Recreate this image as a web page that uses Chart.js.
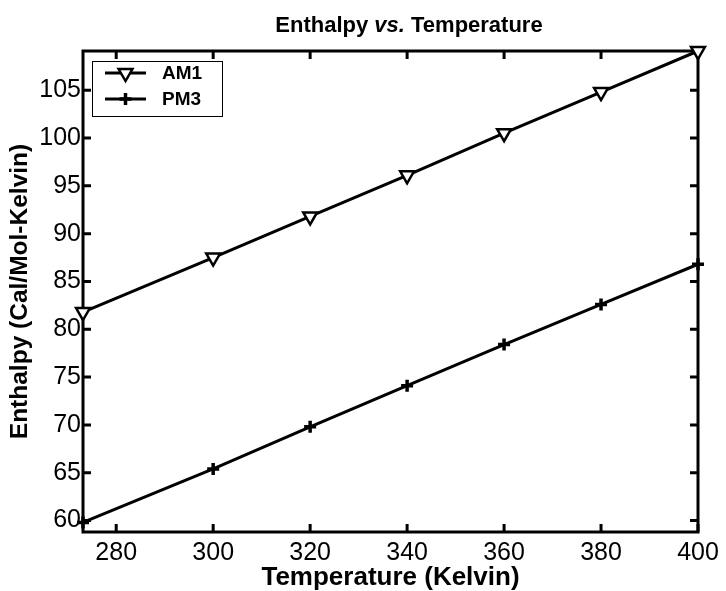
<!DOCTYPE html>
<html>
<head>
<meta charset="utf-8">
<script src="https://cdn.jsdelivr.net/npm/chart.js@4"></script>
<style>
  html, body { margin: 0; padding: 0; background: #fff; }
</style>
</head>
<body>
<canvas id="enthalpyChart" width="726" height="591"></canvas>
<script>
const temperatures = [273.15, 300, 320, 340, 360, 380, 400];
const am1Values = [81.8, 87.5, 91.8, 96.1, 100.5, 104.8, 109.1];
const pm3Values = [59.8, 65.4, 69.8, 74.1, 78.4, 82.6, 86.8];
const xTickLabels = [280, 300, 320, 340, 360, 380, 400];
const yTickLabels = [60, 65, 70, 75, 80, 85, 90, 95, 100, 105];
const seriesNames = ['AM1', 'PM3'];

const FONT = "'Liberation Sans', Arial, Helvetica, sans-serif";

function toPoints(values) {
  return temperatures.map((t, i) => ({ x: t, y: values[i] }));
}

// draws a marker by hand (used for the legend)
function drawMarker(ctx, style, x, y) {
  ctx.save();
  ctx.strokeStyle = '#000';
  if (style === 'tri') {
    const r = 8;
    ctx.lineWidth = 2.5;
    ctx.fillStyle = '#fff';
    ctx.beginPath();
    ctx.moveTo(x, y + r);
    ctx.lineTo(x - r * 0.866, y - r / 2);
    ctx.lineTo(x + r * 0.866, y - r / 2);
    ctx.closePath();
    ctx.fill();
    ctx.stroke();
  } else {
    const r = 6;
    ctx.lineWidth = 3.5;
    ctx.beginPath();
    ctx.moveTo(x - r, y); ctx.lineTo(x + r, y);
    ctx.moveTo(x, y - r); ctx.lineTo(x, y + r);
    ctx.stroke();
  }
  ctx.restore();
}

// box round the axes with ticks pointing inwards, like the original
const framePlugin = {
  id: 'frame',
  beforeDatasetsDraw(chart) {
    const { ctx, chartArea: a, scales } = chart;
    ctx.save();
    ctx.strokeStyle = '#000';
    ctx.lineWidth = 3;
    ctx.strokeRect(a.left, a.top, a.right - a.left, a.bottom - a.top);
    ctx.beginPath();
    scales.x.ticks.forEach(t => {
      const px = scales.x.getPixelForValue(t.value);
      ctx.moveTo(px, a.bottom); ctx.lineTo(px, a.bottom - 8);
      ctx.moveTo(px, a.top); ctx.lineTo(px, a.top + 8);
    });
    scales.y.ticks.forEach(t => {
      const py = scales.y.getPixelForValue(t.value);
      ctx.moveTo(a.left, py); ctx.lineTo(a.left + 8, py);
      ctx.moveTo(a.right, py); ctx.lineTo(a.right - 8, py);
    });
    ctx.stroke();
    ctx.restore();
  }
};

// title with italic "vs."
const titlePlugin = {
  id: 'mixedTitle',
  afterDraw(chart) {
    const ctx = chart.ctx;
    const parts = [
      { text: 'Enthalpy ', font: 'bold 22px ' + FONT },
      { text: 'vs.', font: 'italic bold 22px ' + FONT },
      { text: ' Temperature', font: 'bold 22px ' + FONT }
    ];
    ctx.save();
    ctx.fillStyle = '#000';
    ctx.textBaseline = 'middle';
    ctx.textAlign = 'left';
    let total = 0;
    parts.forEach(p => { ctx.font = p.font; p.w = ctx.measureText(p.text).width; total += p.w; });
    let x = 409 - total / 2;
    parts.forEach(p => { ctx.font = p.font; ctx.fillText(p.text, x, 26); x += p.w; });
    ctx.restore();
  }
};

// legend box in the upper left corner of the axes
const legendPlugin = {
  id: 'boxLegend',
  afterDraw(chart) {
    const { ctx, chartArea: a } = chart;
    const bx = a.left + 9, by = a.top + 10, bw = 130, bh = 55;
    ctx.save();
    ctx.fillStyle = '#fff';
    ctx.fillRect(bx, by, bw, bh);
    ctx.strokeStyle = '#000';
    ctx.lineWidth = 1;
    ctx.strokeRect(bx + 0.5, by + 0.5, bw, bh);
    const styles = ['tri', 'cross'];
    chart.data.datasets.forEach((ds, i) => {
      const y = by + 12 + i * 26;
      ctx.strokeStyle = '#000';
      ctx.lineWidth = 3;
      ctx.beginPath();
      ctx.moveTo(bx + 13, y); ctx.lineTo(bx + 54, y);
      ctx.stroke();
      drawMarker(ctx, styles[i], bx + 33.5, y);
      ctx.fillStyle = '#000';
      ctx.font = 'bold 19px ' + FONT;
      ctx.textBaseline = 'middle';
      ctx.fillText(ds.label, bx + 70, y + 1);
    });
    ctx.restore();
  }
};

new Chart(document.getElementById('enthalpyChart').getContext('2d'), {
  type: 'line',
  data: {
    datasets: [
      {
        label: seriesNames[0],
        data: toPoints(am1Values),
        borderColor: '#000',
        borderWidth: 3,
        backgroundColor: '#fff',
        pointStyle: 'triangle',
        rotation: 180,
        pointRadius: 8,
        pointBorderWidth: 2.5,
        pointBorderColor: '#000',
        pointBackgroundColor: '#fff',
        clip: false
      },
      {
        label: seriesNames[1],
        data: toPoints(pm3Values),
        borderColor: '#000',
        borderWidth: 3,
        pointStyle: 'cross',
        pointRadius: 6,
        pointBorderWidth: 3.5,
        pointBorderColor: '#000',
        clip: false
      }
    ]
  },
  options: {
    responsive: false,
    animation: false,
    layout: { padding: { top: 51, right: 28, left: 0, bottom: 0 } },
    plugins: {
      legend: { display: false },
      title: { display: false },
      tooltip: { enabled: false }
    },
    scales: {
      x: {
        type: 'linear',
        min: 273.15,
        max: 400,
        afterFit: s => { s.height = 59; },
        afterBuildTicks: s => { s.ticks = xTickLabels.map(v => ({ value: v })); },
        grid: { display: false, drawTicks: false, tickLength: 0 },
        border: { display: false },
        ticks: {
          color: '#000',
          padding: 6,
          maxRotation: 0,
          autoSkip: false,
          font: { family: FONT, size: 25 }
        },
        title: {
          display: true,
          text: 'Temperature (Kelvin)',
          color: '#000',
          padding: { top: 0, bottom: -2 },
          font: { family: FONT, size: 26, weight: 'bold' }
        }
      },
      y: {
        type: 'linear',
        min: 58.8,
        max: 109.1,
        afterFit: s => { s.width = 83; },
        afterBuildTicks: s => { s.ticks = yTickLabels.map(v => ({ value: v })); },
        grid: { display: false, drawTicks: false, tickLength: 0 },
        border: { display: false },
        ticks: {
          color: '#000',
          padding: 2,
          autoSkip: false,
          font: { family: FONT, size: 25 }
        },
        title: {
          display: true,
          text: 'Enthalpy (Cal/Mol-Kelvin)',
          color: '#000',
          padding: { top: 6, bottom: 0 },
          font: { family: FONT, size: 24.5, weight: 'bold' }
        }
      }
    }
  },
  plugins: [framePlugin, titlePlugin, legendPlugin]
});
</script>
</body>
</html>
